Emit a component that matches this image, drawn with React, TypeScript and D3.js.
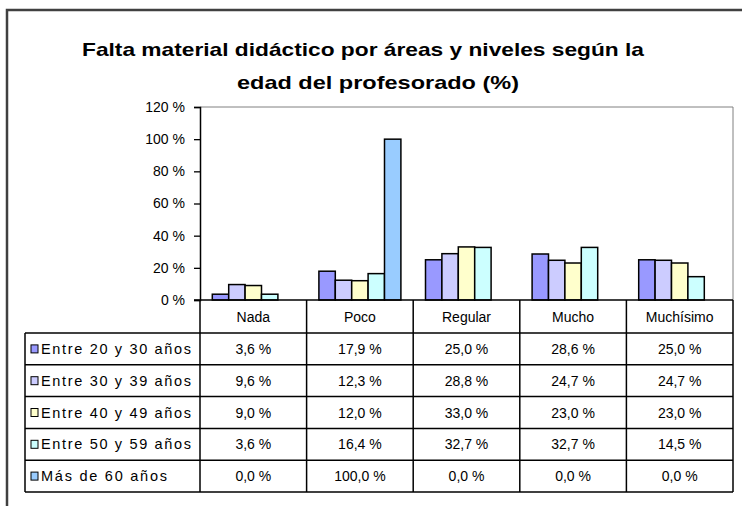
import React, { useEffect, useRef } from "react";
import * as d3 from "d3";

const categories = ["Nada", "Poco", "Regular", "Mucho", "Muchísimo"];
const seriesNames = [
  "Entre 20 y 30 años",
  "Entre 30 y 39 años",
  "Entre 40 y 49 años",
  "Entre 50 y 59 años",
  "Más de 60 años",
];
const entre20_30 = [3.6, 17.9, 25.0, 28.6, 25.0];
const entre30_39 = [9.6, 12.3, 28.8, 24.7, 24.7];
const entre40_49 = [9.0, 12.0, 33.0, 23.0, 23.0];
const entre50_59 = [3.6, 16.4, 32.7, 32.7, 14.5];
const mas60 = [0.0, 100.0, 0.0, 0.0, 0.0];
const seriesValues = [entre20_30, entre30_39, entre40_49, entre50_59, mas60];
const seriesColors = ["#9999ff", "#ccccff", "#ffffcc", "#ccffff", "#99ccff"];
const yTicks = [0, 20, 40, 60, 80, 100, 120];
const titleLines = [
  "Falta material didáctico por áreas y niveles según la",
  "edad del profesorado (%)",
];

const font = "'Liberation Sans', Arial, sans-serif";

function App() {
  const svgRef = useRef<SVGSVGElement | null>(null);

  useEffect(() => {
    const svg = d3.select(svgRef.current);
    svg.selectAll("*").remove();

    const plot = { left: 200, right: 733, top: 107, bottom: 300 };
    const table = { left: 25, headerBottom: 333, bottom: 492 };

    // outer frame (runs off the picture on the right and bottom)
    svg.append("rect")
      .attr("x", 7).attr("y", 10)
      .attr("width", 760).attr("height", 520)
      .attr("fill", "#fff")
      .attr("stroke", "#404040")
      .attr("stroke-width", 2.5);

    // title
    svg.append("g")
      .selectAll("text")
      .data(titleLines)
      .join("text")
      .attr("x", (d, i) => (i === 0 ? 363 : 378))
      .attr("y", (d, i) => 56 + i * 33)
      .attr("text-anchor", "middle")
      .attr("font-family", font)
      .attr("font-weight", "bold")
      .attr("font-size", 19)
      .attr("textLength", (d, i) => (i === 0 ? 562 : 282))
      .attr("lengthAdjust", "spacingAndGlyphs")
      .text((d) => d);

    const x = d3.scaleBand().domain(categories).range([plot.left, plot.right]);
    const xInner = d3.scaleBand()
      .domain(seriesNames)
      .range([0, x.bandwidth()])
      .paddingOuter(0.75);
    const y = d3.scaleLinear().domain([0, 120]).range([plot.bottom, plot.top]);

    // plot area border
    svg.append("path")
      .attr("d", `M${plot.left},${plot.top}H${plot.right}V${plot.bottom}`)
      .attr("fill", "none")
      .attr("stroke", "#808080")
      .attr("stroke-width", 1);

    // bars
    seriesNames.forEach((name, si) => {
      svg.append("g")
        .selectAll("rect")
        .data(categories.map((c, ci) => ({ c, v: seriesValues[si][ci] })))
        .join("rect")
        .attr("x", (d) => (x(d.c) as number) + (xInner(name) as number))
        .attr("y", (d) => y(d.v))
        .attr("width", xInner.bandwidth())
        .attr("height", (d) => plot.bottom - y(d.v))
        .attr("fill", seriesColors[si])
        .attr("stroke", "#000")
        .attr("stroke-width", (d) => (d.v > 0 ? 1.5 : 0));
    });

    // y axis
    const yAxis = svg.append("g")
      .attr("transform", `translate(${plot.left},0)`)
      .call(d3.axisLeft(y).tickValues(yTicks).tickSize(6).tickFormat((d) => `${d} %`));
    yAxis.select(".domain").attr("stroke", "#000").attr("stroke-width", 1.5);
    yAxis.selectAll(".tick line").attr("stroke", "#000").attr("stroke-width", 1.3);
    yAxis.selectAll("text")
      .attr("font-family", font)
      .attr("font-size", 14)
      .attr("fill", "#000")
      .attr("x", -15);

    // table grid
    const rowY = d3.scaleBand().domain(seriesNames).range([table.headerBottom, table.bottom]);
    const grid = svg.append("g").attr("stroke", "#000").attr("stroke-width", 1.5).attr("fill", "none");
    // x axis line / header top
    grid.append("line")
      .attr("x1", plot.left - 6).attr("x2", plot.right)
      .attr("y1", plot.bottom).attr("y2", plot.bottom);
    // horizontal row lines
    grid.selectAll(".hrow")
      .data([...seriesNames.map((s) => rowY(s) as number), table.bottom])
      .join("line")
      .attr("class", "hrow")
      .attr("x1", table.left).attr("x2", plot.right)
      .attr("y1", (d) => d).attr("y2", (d) => d);
    // vertical lines
    grid.selectAll(".vcol")
      .data([plot.left, ...categories.map((c) => (x(c) as number) + x.bandwidth())])
      .join("line")
      .attr("class", "vcol")
      .attr("x1", (d) => d).attr("x2", (d) => d)
      .attr("y1", plot.bottom).attr("y2", table.bottom);
    grid.append("line")
      .attr("x1", table.left).attr("x2", table.left)
      .attr("y1", table.headerBottom).attr("y2", table.bottom);

    // header labels
    svg.append("g")
      .selectAll("text")
      .data(categories)
      .join("text")
      .attr("x", (d) => (x(d) as number) + x.bandwidth() / 2)
      .attr("y", (plot.bottom + table.headerBottom) / 2 + 5)
      .attr("text-anchor", "middle")
      .attr("font-family", font)
      .attr("font-size", 14)
      .text((d) => d);

    // row labels with legend keys
    const rows = svg.append("g")
      .selectAll("g")
      .data(seriesNames)
      .join("g")
      .attr("transform", (d) => `translate(0,${(rowY(d) as number) + rowY.bandwidth() / 2})`);
    rows.append("rect")
      .attr("x", 31).attr("y", -4)
      .attr("width", 7).attr("height", 8)
      .attr("fill", (d, i) => seriesColors[i])
      .attr("stroke", "#000")
      .attr("stroke-width", 1);
    rows.append("text")
      .attr("x", 41).attr("y", 5)
      .attr("font-family", font)
      .attr("font-size", 14.5)
      .attr("textLength", (d, i) => (i === 4 ? 126 : 150))
      .attr("lengthAdjust", "spacing")
      .text((d) => d);

    // values
    seriesNames.forEach((name, si) => {
      svg.append("g")
        .selectAll("text")
        .data(categories.map((c, ci) => ({ c, v: seriesValues[si][ci] })))
        .join("text")
        .attr("x", (d) => (x(d.c) as number) + x.bandwidth() / 2)
        .attr("y", (rowY(name) as number) + rowY.bandwidth() / 2 + 5)
        .attr("text-anchor", "middle")
        .attr("font-family", font)
        .attr("font-size", 14)
        .text((d) => `${d.v.toFixed(1).replace(".", ",")} %`);
    });
  }, []);

  return (
    <svg
      ref={svgRef}
      width={742}
      height={506}
      style={{ position: "absolute", left: 0, top: 0, background: "#fff" }}
    />
  );
}

export default App;
